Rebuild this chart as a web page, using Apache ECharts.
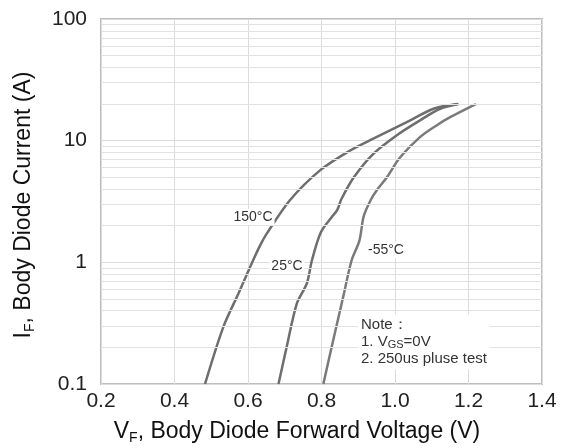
<!DOCTYPE html>
<html>
<head>
<meta charset="utf-8">
<script src="https://cdn.jsdelivr.net/npm/echarts@6/dist/echarts.min.js"></script>
<style>
html,body{margin:0;padding:0;background:#fff;}
#chart{width:565px;height:448px;}
</style>
</head>
<body>
<div id="chart"></div>
<script>
// forward voltage (V) / current (A)
var curve150 = [[0.483,0.1],[0.533,0.295],[0.574,0.555],[0.610,0.98],[0.633,1.38],[0.651,1.72],[0.714,3.24],[0.796,5.7],[0.878,8.3],[0.941,10.4],[1.032,14.2],[1.105,18.3],[1.17,20]];
var curve25 = [[0.683,0.1],[0.705,0.20],[0.733,0.46],[0.760,0.67],[0.774,1.04],[0.798,1.76],[0.828,2.36],[0.843,2.7],[0.854,3.3],[0.888,5.0],[0.941,7.8],[1.005,11.1],[1.068,14.7],[1.123,18.3],[1.173,20]];
var curveM55 = [[0.805,0.1],[0.832,0.23],[0.859,0.52],[0.882,1.04],[0.903,1.5],[0.915,2.4],[0.935,3.3],[0.950,3.9],[0.978,5.0],[1.014,7.3],[1.068,10.7],[1.114,13.4],[1.150,15.6],[1.22,20]];
var curveNames = ['150°C', '25°C', '-55°C'];
// minor horizontal grid lines of the log axis
var minorGrid = [0.2,0.3,0.4,0.5,0.6,0.7,0.8,0.9,2,3,4,5,6,7,8,9,20,30,40,50,60,70,80,90];

var font = 'Liberation Sans, Arial, sans-serif';
var chart = echarts.init(document.getElementById('chart'));

function curve(name, data, color) {
	return {
		name: name,
		type: 'line',
		data: data,
		smooth: 0.3,
		symbol: 'none',
		z: 3,
		lineStyle: {color: color, width: 2.5}
	};
}

function note(x, y, text, size, align) {
	return {
		type: 'text', x: x, y: y, z: 10,
		style: {
			text: text, font: size + 'px ' + font, fill: '#333',
			textAlign: align, align: align, textVerticalAlign: 'middle', verticalAlign: 'middle',
			backgroundColor: '#fff', padding: [1, 2]
		}
	};
}

var option = {
	animation: false,
	grid: {
		left: 101, right: 23, top: 19, bottom: 64,
		show: true, borderColor: '#bdbdbd', borderWidth: 2
	},
	xAxis: {
		type: 'value', min: 0.2, max: 1.4, interval: 0.2,
		axisLine: {show: false}, axisTick: {show: false},
		axisLabel: {
			formatter: function (v) { return v.toFixed(1); },
			fontSize: 21, color: '#222', margin: 7, fontFamily: font
		},
		splitLine: {lineStyle: {color: '#dcdcdc', width: 1}}
	},
	yAxis: {
		type: 'log', logBase: 10, min: 0.1, max: 100,
		axisLine: {show: false}, axisTick: {show: false},
		axisLabel: {
			formatter: function (v) { return v < 1 ? v.toFixed(1) : v.toFixed(0); },
			fontSize: 21, color: '#222', margin: 14, fontFamily: font
		},
		splitLine: {lineStyle: {color: '#dcdcdc', width: 1}}
	},
	series: [
		{
			type: 'line', data: [], z: 1, silent: true,
			markLine: {
				silent: true, symbol: ['none', 'none'], label: {show: false},
				lineStyle: {color: '#e2e2e2', width: 1, type: 'solid'},
				data: minorGrid.map(function (v) { return {yAxis: v}; })
			}
		},
		curve(curveNames[0], curve150, '#6e6e6e'),
		curve(curveNames[1], curve25, '#6e6e6e'),
		curve(curveNames[2], curveM55, '#7a7a7a')
	],
	graphic: [
		note(253, 217, curveNames[0], 14, 'center'),
		note(287, 266, curveNames[1], 14, 'center'),
		note(366, 250, curveNames[2], 14, 'left'),
		{
			type: 'text', x: 358, y: 342, z: 10,
			style: {
				text: 'Note：\n{a|1. V}{s|GS}{a|=0V}\n2. 250us pluse test',
				font: '15px ' + font, fill: '#333', lineHeight: 17,
				textVerticalAlign: 'middle', verticalAlign: 'middle',
				backgroundColor: '#fff', padding: [2, 3],
				rich: {
					a: {fontSize: 15, fontFamily: font, fill: '#333', lineHeight: 17},
					s: {fontSize: 11, fontFamily: font, fill: '#333', lineHeight: 12, verticalAlign: 'bottom'}
				}
			}
		},
		{type: 'text', x: 297, y: 432, style: {
			text: '{a|V}{s|F}{a|, Body Diode Forward Voltage (V)}', fill: '#111', textAlign: 'center', textVerticalAlign: 'middle', align: 'center', verticalAlign: 'middle',
			rich: {a: {fontSize: 23, fontFamily: font, fill: '#111', lineHeight: 26}, s: {fontSize: 14, fontFamily: font, fill: '#111', lineHeight: 14, verticalAlign: 'bottom'}}
		}},
		{type: 'text', x: 24, y: 205, rotation: Math.PI / 2, style: {
			text: '{a|I}{s|F}{a|, Body Diode Current (A)}', fill: '#111', textAlign: 'center', textVerticalAlign: 'middle', align: 'center', verticalAlign: 'middle',
			rich: {a: {fontSize: 23, fontFamily: font, fill: '#111', lineHeight: 26}, s: {fontSize: 14, fontFamily: font, fill: '#111', lineHeight: 14, verticalAlign: 'bottom'}}
		}}
	]
};
chart.setOption(option);
</script>
</body>
</html>
